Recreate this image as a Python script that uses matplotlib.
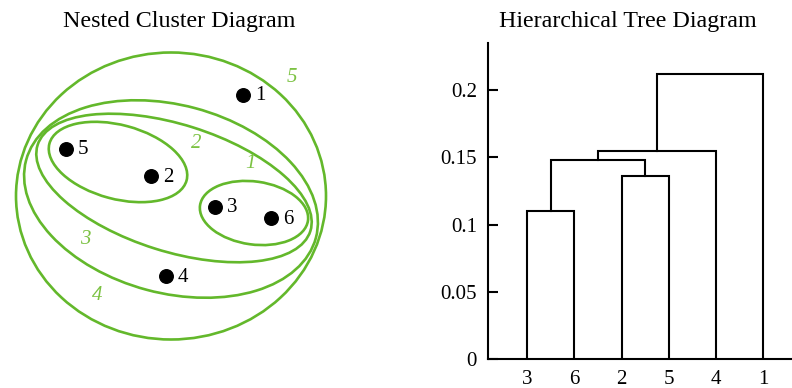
import matplotlib
matplotlib.use("Agg")
import matplotlib.pyplot as plt
from matplotlib.patches import Ellipse

plt.rcParams['font.family'] = ['Liberation Serif', 'DejaVu Serif']

# ---- nested cluster data (pixel space of the left panel, y grows downward) ----
point_ids = ['1', '5', '2', '3', '6', '4']
point_x = [243, 66, 151, 215, 271, 166]
point_y = [95, 149, 176, 207, 218, 276]

# cluster outlines: centre x, centre y, width, height, tilt (deg)
cluster_ids = ['1', '2', '3', '4', '5']
cluster_cx = [254, 118, 174, 171, 171]
cluster_cy = [213, 162, 188, 199, 196]
cluster_w = [109, 142, 286, 300, 310]
cluster_h = [63, 74, 127, 188, 287]
cluster_tilt = [8, 15, 17.5, 15, 0]
cluster_label_x = [250, 196, 85, 97, 292]
cluster_label_y = [163, 144, 240, 295, 77]

# ---- hierarchical tree data ----
leaf_labels = ['3', '6', '2', '5', '4', '1']
# each merge: (left cluster index, right cluster index, height); leaves are 0..5
merge_left = [0, 2, 6, 8, 9]
merge_right = [1, 3, 7, 4, 5]
merge_height = [0.110, 0.136, 0.148, 0.155, 0.212]

GREEN = '#63b82b'
GREEN_TXT = '#7cc243'

fig = plt.figure(figsize=(7.92, 3.88), dpi=100)

# left panel: drawn directly in pixel coordinates
ax1 = fig.add_axes([0, 0, 400 / 792, 1])
ax1.set_xlim(0, 400)
ax1.set_ylim(388, 0)
ax1.axis('off')

for i in range(len(cluster_ids)):
    e = Ellipse((cluster_cx[i], cluster_cy[i]), cluster_w[i], cluster_h[i],
                angle=cluster_tilt[i], fill=False, edgecolor=GREEN, lw=1.9)
    ax1.add_patch(e)
    ax1.text(cluster_label_x[i], cluster_label_y[i], cluster_ids[i], color=GREEN_TXT,
             fontsize=15, style='italic', ha='center', va='center')

ax1.scatter(point_x, point_y, s=95, color='black', zorder=3)
for pid, px, py in zip(point_ids, point_x, point_y):
    ax1.text(px + 12, py + 1, pid, fontsize=15, ha='left', va='center')

ax1.text(179, 27, 'Nested Cluster Diagram', fontsize=17.3, ha='center', va='baseline')

# right panel: dendrogram
ax2 = fig.add_axes([488 / 792, 29 / 388, 304 / 792, 316 / 388])
node_x = list(range(len(leaf_labels)))
node_h = [0.0] * len(leaf_labels)
for l, r, h in zip(merge_left, merge_right, merge_height):
    x1, x2 = node_x[l], node_x[r]
    ax2.plot([x1, x1, x2, x2], [node_h[l], h, h, node_h[r]], color='black', lw=1.5,
             solid_joinstyle='miter')
    node_x.append((x1 + x2) / 2)
    node_h.append(h)

ax2.set_xlim(-0.833, 5.61)
ax2.set_ylim(0, 0.235)
ax2.spines['top'].set_visible(False)
ax2.spines['right'].set_visible(False)
for s in ('left', 'bottom'):
    ax2.spines[s].set_linewidth(1.5)
ax2.set_yticks([0, 0.05, 0.1, 0.15, 0.2])
ax2.set_yticklabels(['0', '0.05', '0.1', '0.15', '0.2'])
ax2.set_xticks(range(len(leaf_labels)))
ax2.set_xticklabels(leaf_labels)
ax2.tick_params(axis='y', direction='in', length=7, width=1.5, labelsize=15, pad=8)
ax2.tick_params(axis='x', length=0, labelsize=15, pad=8)
ax2.patch.set_alpha(0)

fig.text(628 / 792, 1 - 27 / 388, 'Hierarchical Tree Diagram', fontsize=17.3,
         ha='center', va='baseline')

fig.savefig('out.png', dpi=100)
